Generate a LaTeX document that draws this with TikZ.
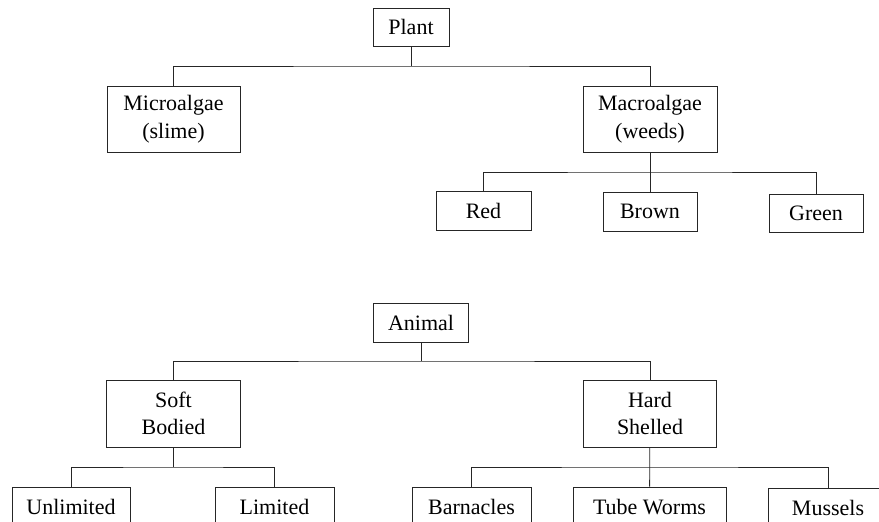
\documentclass[tikz,border=0pt]{standalone}
\usepackage{fontspec}
\setmainfont{Liberation Serif}
\begin{document}
\begin{tikzpicture}[x=1pt,y=-1pt,
  box/.style={draw=black!85, line width=0.8pt, inner sep=0pt, align=center,
    font=\fontsize{22}{27.5}\selectfont},
  link/.style={draw=black!85, line width=0.8pt}]
\useasboundingbox (0,0) rectangle (879,522);
\clip (0,0) rectangle (879,522);
% Plant tree
\node[box, minimum width=76pt, minimum height=38pt] (plant) at (411,27) {Plant};
\node[box, minimum width=133pt, minimum height=66pt] (micro) at (173.5,119) {Microalgae\\(slime)};
\node[box, minimum width=134pt, minimum height=66pt] (macro) at (650,119) {Macroalgae\\(weeds)};
\node[box, minimum width=95pt, minimum height=39pt] (red) at (483.5,210.5) {Red};
\node[box, minimum width=94pt, minimum height=39pt] (brown) at (650,211.5) {Brown};
\node[box, minimum width=94pt, minimum height=38pt] (green) at (816,213) {Green};
\coordinate (b1) at (411,66);
\coordinate (b2) at (650,172);
\draw[link] (plant) -- (b1);
\draw[link] (micro.north) |- (b1) -| (macro.north);
\draw[link] (macro) -- (brown);
\draw[link] (red.north) |- (b2) -| (green.north);
% Animal tree
\node[box, minimum width=95pt, minimum height=39pt] (animal) at (421,322.5) {Animal};
\node[box, minimum width=134pt, minimum height=67pt] (soft) at (173.5,413.5) {Soft\\Bodied};
\node[box, minimum width=133pt, minimum height=67pt] (hard) at (650,413.5) {Hard\\Shelled};
\node[box, minimum width=118pt, minimum height=40pt] (unlim) at (71,507) {Unlimited};
\node[box, minimum width=119pt, minimum height=40pt] (lim) at (274.5,507) {Limited};
\node[box, minimum width=119pt, minimum height=40pt] (barn) at (471.5,507) {Barnacles};
\node[box, minimum width=153pt, minimum height=40pt] (tube) at (649.5,507) {Tube Worms};
\node[box, minimum width=120pt, minimum height=40pt] (muss) at (828,508) {Mussels};
\coordinate (b3) at (421,361);
\coordinate (b4) at (173.5,467);
\coordinate (b5) at (650,467);
\draw[link] (animal) -- (b3);
\draw[link] (soft.north) |- (b3) -| (hard.north);
\draw[link] (soft) -- (b4);
\draw[link] (unlim.north) |- (b4) -| (lim.north);
\draw[link] (hard) -- (tube);
\draw[link] (barn.north) |- (b5) -| (muss.north);
\end{tikzpicture}
\end{document}
